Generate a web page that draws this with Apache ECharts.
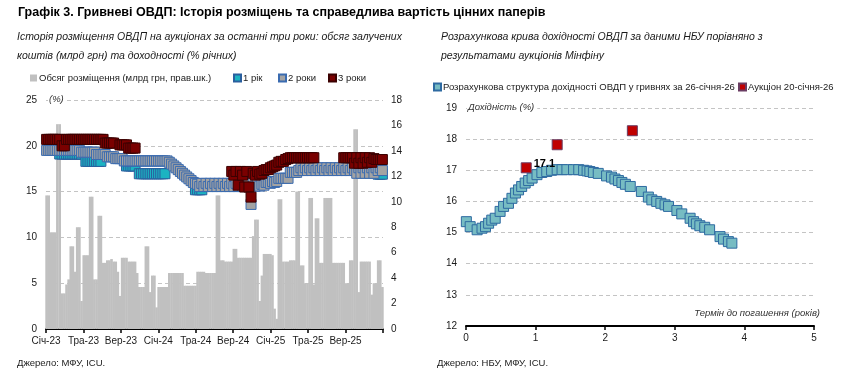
<!DOCTYPE html>
<html><head><meta charset="utf-8">
<script src="https://cdn.jsdelivr.net/npm/echarts@6/dist/echarts.min.js"></script>
<style>html,body{margin:0;padding:0;background:#fff}#c{width:849px;height:392px}</style>
</head><body><div id="c"></div>
<script>
// ---------- LEFT CHART DATA (weekly auctions, from 2023-01-03) ----------
const FIRST_AUCTION = '2023-01-03';
const xTickLabels = ['Січ-23','Тра-23','Вер-23','Січ-24','Тра-24','Вер-24','Січ-25','Тра-25','Вер-25',''];
// volume of placement, bn UAH (right axis)
const volumes = [
10.5,10.5,7.6,7.6,7.6,16.1,16.1,2.8,2.8,3.5,
3.9,6.5,6.5,4.5,8.0,8.0,2.2,5.8,5.8,5.8,
10.4,10.4,3.9,3.9,8.9,8.9,5.2,5.2,5.4,5.4,
5.5,5.3,5.3,4.5,2.6,5.6,5.6,5.6,5.3,5.3,
5.3,5.3,4.4,3.3,3.3,3.3,6.5,6.5,2.9,4.2,
4.2,1.7,3.3,3.3,3.3,3.3,3.3,4.4,4.4,4.4,
4.4,4.4,4.4,4.4,3.4,3.4,3.4,3.4,3.4,3.4,
4.5,4.5,4.5,4.5,4.4,4.4,4.4,4.4,4.4,10.5,
10.5,5.4,5.4,5.3,5.3,5.3,5.3,6.3,6.3,5.6,
5.6,5.6,5.6,5.6,5.6,5.6,7.3,8.6,8.6,2.2,
4.2,5.9,5.9,5.9,5.9,5.8,1.6,0.8,10.2,10.2,
5.3,5.3,5.3,5.4,5.4,5.4,10.8,10.8,5.0,5.0,
3.6,3.6,10.3,10.3,3.5,8.7,8.7,5.2,5.2,10.3,
10.3,10.3,10.3,5.2,5.2,5.2,5.2,5.2,5.2,3.6,
3.6,5.4,5.4,15.7,15.7,2.9,5.3,5.3,5.3,5.3,
5.3,2.7,3.6,3.6,5.4,5.4,3.3
];
const n = null;
// yields, % (left axis)
const yield1y = [
n,n,n,n,n,n,19.1,19.1,19.1,19.1,
19.1,19.1,19.1,19.1,19.1,19.1,19.1,n,18.3,18.3,
18.3,18.3,18.3,18.3,18.3,18.3,n,n,n,n,
n,n,n,n,n,n,n,17.8,17.8,17.8,
17.8,17.8,n,16.95,16.95,16.95,16.95,16.95,16.95,16.95,
16.95,16.95,16.95,16.95,16.95,16.95,n,n,n,n,
n,n,n,n,n,n,n,n,n,15.2,
15.2,15.2,15.2,n,n,n,n,n,n,n,
n,n,n,n,n,n,n,n,n,n,
n,n,n,n,n,n,n,n,n,n,
n,n,n,n,n,n,n,n,n,n,
n,n,n,n,n,n,n,n,n,n,
n,n,n,n,n,n,n,n,n,n,
n,n,n,n,n,n,n,n,n,n,
n,n,n,n,n,n,n,n,n,n,
n,n,n,n,16.9,16.9,16.9
];
const yield2y = [
19.5,19.5,19.5,19.5,19.5,19.5,19.5,19.5,19.5,19.5,
19.5,19.5,19.5,19.5,19.5,19.5,19.3,19.3,19.3,19.3,
19.3,19.3,19.3,19.05,19.05,19.05,19.05,19.05,18.8,18.8,
18.8,18.8,18.6,18.6,18.6,18.6,18.35,18.35,18.35,18.35,
18.35,18.35,18.35,18.35,18.35,18.35,18.35,18.35,18.35,18.35,
18.35,18.35,18.35,18.35,18.35,18.35,18.35,18.2,18.0,17.8,
17.6,17.4,17.2,17.0,16.8,16.6,16.4,16.2,16.0,15.9,
15.8,15.55,15.9,15.55,15.9,15.55,15.9,15.55,15.9,15.55,
15.9,15.55,15.9,15.55,15.9,15.55,15.9,15.55,15.9,15.55,
15.9,15.55,15.9,15.55,15.9,13.6,15.9,15.6,15.8,15.6,
15.8,15.7,16.0,16.0,15.9,16.1,16.0,16.1,16.45,16.45,
16.45,16.45,16.45,17.1,17.1,17.1,17.1,17.3,17.6,17.3,
17.6,17.3,17.6,17.3,17.6,17.3,17.6,17.3,17.6,17.3,
17.6,17.3,17.6,17.3,17.6,17.3,17.6,17.3,17.6,17.3,
17.6,17.3,17.6,17.3,17.0,17.6,17.0,17.6,17.0,17.6,
17.0,17.6,17.0,17.6,17.3,17.6,17.3
];
const yield3y = [
20.7,20.7,20.7,20.7,20.7,20.7,20.7,20.0,20.0,20.7,
20.7,20.7,20.7,20.7,20.7,20.7,20.7,20.7,20.7,20.7,
20.7,20.7,20.7,20.7,20.7,20.7,20.7,20.3,20.3,20.3,
20.3,20.3,n,n,20.1,20.1,20.1,20.1,19.75,19.75,
19.75,19.75,n,n,n,n,n,n,n,n,
n,n,n,n,n,n,n,n,n,n,
n,n,n,n,n,n,n,n,n,n,
n,n,n,n,n,n,n,n,n,n,
n,n,n,n,n,n,17.2,16.8,17.2,15.7,
17.2,16.8,15.5,17.2,15.5,14.4,17.0,16.8,17.2,16.9,
17.0,17.3,17.4,17.4,17.6,17.7,17.8,17.9,18.2,18.3,
18.3,18.5,18.6,18.7,18.7,18.7,18.7,18.7,18.7,18.7,
18.7,18.7,18.7,18.7,18.7,n,n,n,n,n,
n,n,n,n,n,n,n,n,18.7,18.7,
18.7,18.7,18.7,18.1,18.7,18.1,18.7,18.1,18.7,18.2,
18.7,18.2,18.6,18.5,18.5,18.5,18.5
];

// ---------- RIGHT CHART DATA ----------
const curveTerm = [0.005,0.06,0.16,0.23,0.28,0.325,0.37,0.42,0.49,0.54,0.61,0.66,0.71,0.755,0.80,0.85,0.90,0.95,1.02,1.09,1.16,1.23,1.31,1.38,1.45,1.545,1.62,1.69,1.74,1.78,1.83,1.90,2.02,2.09,2.14,2.19,2.24,2.29,2.36,2.52,2.62,2.67,2.74,2.80,2.86,2.91,3.03,3.10,3.22,3.27,3.31,3.36,3.43,3.50,3.65,3.70,3.77,3.82];
const curveYield = [15.35,15.19,15.09,15.14,15.19,15.30,15.40,15.46,15.68,15.84,15.94,16.10,16.27,16.37,16.48,16.59,16.67,16.75,16.86,16.93,16.96,17.00,17.02,17.02,17.02,17.02,17.02,17.00,16.98,16.96,16.93,16.90,16.82,16.78,16.72,16.67,16.61,16.55,16.48,16.32,16.14,16.05,16.00,15.94,15.89,15.84,15.71,15.60,15.46,15.35,15.28,15.22,15.17,15.09,14.87,14.79,14.71,14.66];
const auctionTerm = [0.865, 1.31, 2.39];
const auctionYield = [17.08, 17.82, 18.27];
const auctionLabels = ['17.1', '', ''];

// ---------- helpers ----------
function addDays(s, k) {
  const [y, m, d] = s.split('-').map(Number);
  const t = new Date(Date.UTC(y, m - 1, d + k));
  return t.toISOString().slice(0, 10);
}
function monthIndex(s) {
  const [y, m, d] = s.split('-').map(Number);
  const dim = new Date(Date.UTC(y, m, 0)).getUTCDate();
  return (y - 2023) * 12 + (m - 1) + (d - 1) / dim;
}
const auctionDates = volumes.map((_, i) => addDays(FIRST_AUCTION, 7 * i));
const toPairs = arr => auctionDates.map((d, i) => arr[i] == null ? null : [monthIndex(d), arr[i]]).filter(p => p);

const FONT = '"Liberation Sans", Arial, sans-serif';
const TXT = '#1a1a1a';
const chart = echarts.init(document.getElementById('c'));

const volName = 'Обсяг розміщення (млрд грн, прав.шк.)';
const curveName = 'Розрахункова структура дохідності ОВДП у гривнях за 26-січня-26';
const aucName = 'Аукціон 20-січня-26';

function legendAt(name, left, top, icon) {
  const l = { data: [icon ? { name, icon } : name], left, top, padding: 0, itemWidth: 7, itemHeight: 7,
    itemGap: 0, selectedMode: false, textStyle: { fontSize: 9.5, color: TXT, fontFamily: FONT, padding: [0, 0, 0, -3] } };
  return l;
}

const option = {
  animation: false,
  textStyle: { fontFamily: FONT },
  grid: [
    { left: 46, top: 100, width: 337, height: 229 },
    { left: 466, top: 108, width: 348, height: 218 }
  ],
  legend: [
    legendAt(volName, 30, 73, 'rect'),
    legendAt('1 рік', 233, 73),
    legendAt('2 роки', 278, 73),
    legendAt('3 роки', 328, 73),
    legendAt(curveName, 433, 82),
    legendAt(aucName, 738, 82)
  ],
  xAxis: [
    { type: 'value', gridIndex: 0, min: 0, max: 36, interval: 4,
      axisLine: { onZero: false, lineStyle: { color: '#000', width: 2 } },
      axisTick: { show: true, length: 4, lineStyle: { color: '#000', width: 1.5 } },
      axisLabel: { formatter: v => xTickLabels[Math.round(v / 4)] || '', fontSize: 10, color: TXT, margin: 7 },
      splitLine: { show: false } },
    { type: 'value', gridIndex: 1, min: 0, max: 5, interval: 1,
      axisLine: { onZero: false, lineStyle: { color: '#000', width: 2 } },
      axisTick: { show: true, length: 4, lineStyle: { color: '#000', width: 1.5 } },
      axisLabel: { fontSize: 10, color: TXT, margin: 7 },
      splitLine: { show: false } }
  ],
  yAxis: [
    { type: 'value', gridIndex: 0, min: 0, max: 25, interval: 5, position: 'left',
      axisLine: { show: false }, axisTick: { show: false },
      axisLabel: { fontSize: 10, color: TXT, margin: 9 },
      splitLine: { lineStyle: { color: '#c4c4c4', type: [4, 3], width: 1 } } },
    { type: 'value', gridIndex: 0, min: 0, max: 18, interval: 2, position: 'right',
      axisLine: { show: false }, axisTick: { show: false },
      axisLabel: { fontSize: 10, color: TXT, margin: 8 },
      splitLine: { show: false } },
    { type: 'value', gridIndex: 1, min: 12, max: 19, interval: 1, position: 'left',
      axisLine: { show: false }, axisTick: { show: false },
      axisLabel: { fontSize: 10, color: TXT, margin: 9 },
      splitLine: { lineStyle: { color: '#c4c4c4', type: [4, 3], width: 1 } } }
  ],
  series: [
    { name: volName, type: 'bar', xAxisIndex: 0, yAxisIndex: 1, barWidth: 2.6,
      itemStyle: { color: '#c0c0c0' }, data: toPairs(volumes), z: 1 },
    { name: '1 рік', type: 'scatter', xAxisIndex: 0, yAxisIndex: 0, symbol: 'rect', symbolSize: 10,
      itemStyle: { color: '#1cb3c2', borderColor: '#2a5f9e', borderWidth: 1, opacity: 1 }, data: toPairs(yield1y), z: 3 },
    { name: '2 роки', type: 'scatter', xAxisIndex: 0, yAxisIndex: 0, symbol: 'rect', symbolSize: 10,
      itemStyle: { color: '#a3a3a3', borderColor: '#3a6bb0', borderWidth: 1, opacity: 1 }, data: toPairs(yield2y), z: 4 },
    { name: '3 роки', type: 'scatter', xAxisIndex: 0, yAxisIndex: 0, symbol: 'rect', symbolSize: 10,
      itemStyle: { color: '#7a0000', borderColor: '#3a0000', borderWidth: 1, opacity: 1 }, data: toPairs(yield3y), z: 5 },
    { name: curveName, type: 'scatter', xAxisIndex: 1, yAxisIndex: 2, symbol: 'rect', symbolSize: 10,
      itemStyle: { color: '#77bcc3', borderColor: '#2e6aa1', borderWidth: 1, opacity: 1 },
      data: curveTerm.map((t, i) => [t, curveYield[i]]), z: 3 },
    { name: aucName, type: 'scatter', xAxisIndex: 1, yAxisIndex: 2, symbol: 'rect', symbolSize: 10,
      itemStyle: { color: '#c00000', borderColor: '#6a3d63', borderWidth: 1, opacity: 1 },
      label: { show: true, position: 'right', distance: 2, offset: [0, -4], fontSize: 11, fontWeight: 'bold', color: '#000',
        formatter: p => auctionLabels[p.dataIndex] },
      data: auctionTerm.map((t, i) => [t, auctionYield[i]]), z: 4 }
  ],
  graphic: [
    { type: 'text', left: 18, top: 6, style: { text: 'Графік 3. Гривневі ОВДП: Історія розміщень та справедлива вартість цінних паперів',
      font: 'bold 12.5px ' + FONT, fill: '#000' } },
    { type: 'text', left: 17, top: 28, style: { text: 'Історія розміщення ОВДП на аукціонах за останні три роки: обсяг залучених\nкоштів (млрд грн) та доходності (% річних)',
      font: 'italic 10.5px ' + FONT, fill: TXT, lineHeight: 19 } },
    { type: 'text', left: 441, top: 28, style: { text: 'Розрахункова крива дохідності ОВДП за даними НБУ порівняно з\nрезультатами аукціонів Мінфіну',
      font: 'italic 10.5px ' + FONT, fill: TXT, lineHeight: 19 } },
    { type: 'text', left: 48, top: 94, z: 10, style: { text: '(%)', font: 'italic 9.5px ' + FONT, fill: '#333',
      backgroundColor: '#fff', padding: [0, 3, 0, 1] } },
    { type: 'text', left: 467, top: 102, z: 10, style: { text: 'Дохідність (%)', font: 'italic 9.5px ' + FONT, fill: '#333',
      backgroundColor: '#fff', padding: [0, 3, 0, 1] } },
    { type: 'text', right: 29, top: 308, z: 10, style: { text: 'Термін до погашення (років)', font: 'italic 9.5px ' + FONT, fill: '#333' } },
    { type: 'text', left: 17, top: 358, style: { text: 'Джерело: МФУ, ICU.', font: '9.5px ' + FONT, fill: TXT } },
    { type: 'text', left: 437, top: 358, style: { text: 'Джерело: НБУ, МФУ, ICU.', font: '9.5px ' + FONT, fill: TXT } }
  ]
};
chart.setOption(option);
</script></body></html>
